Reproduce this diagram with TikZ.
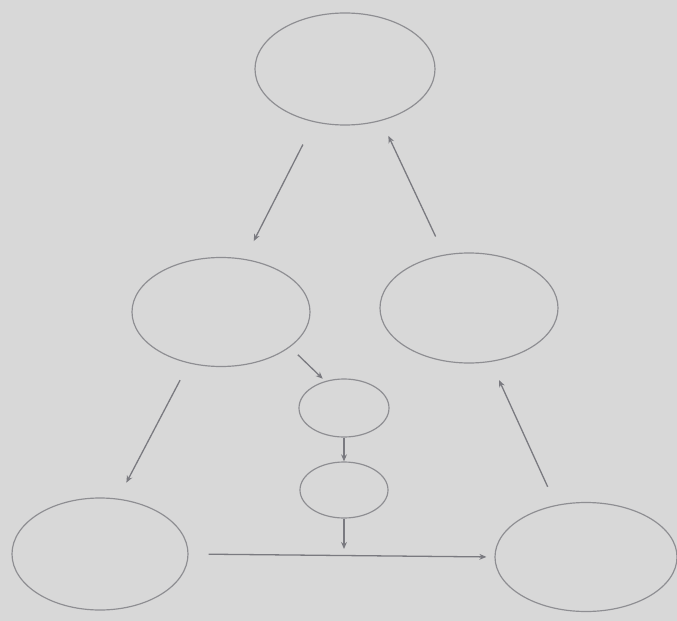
\documentclass[tikz,border=0pt]{standalone}
\usepackage{tikz}
\usetikzlibrary{shapes.geometric, arrows.meta}
\definecolor{paper}{RGB}{216,216,216}
\definecolor{pencil}{RGB}{142,142,146}
\definecolor{inkline}{RGB}{122,122,128}

\begin{document}
\begin{tikzpicture}[x=0.03cm, y=-0.03cm,
    bubble/.style={ellipse, draw=pencil, line width=1pt, inner sep=0pt},
    flow/.style={draw=inkline, line width=1.1pt, -{Stealth[length=6pt,width=5pt]}}]
    \useasboundingbox (0,0) rectangle (677,621);
    \fill[paper] (0,0) rectangle (677,621);

    \node[bubble, minimum width=5.4cm, minimum height=3.36cm] (top) at (345,69) {};
    \node[bubble, minimum width=5.34cm, minimum height=3.27cm] (midleft) at (221,312) {};
    \node[bubble, minimum width=5.34cm, minimum height=3.3cm] (midright) at (469,308) {};
    \node[bubble, minimum width=2.7cm, minimum height=1.74cm] (smallA) at (344,408) {};
    \node[bubble, minimum width=2.64cm, minimum height=1.68cm] (smallB) at (344,490) {};
    \node[bubble, minimum width=5.28cm, minimum height=3.36cm] (botleft) at (100,554) {};
    \node[bubble, minimum width=5.46cm, minimum height=3.27cm] (botright) at (586,557) {};
    \coordinate (join) at (smallB.south |- botleft.east);

    \draw[flow, shorten <=0.75cm, shorten >=0.6cm] (top.240) -- (midleft.66);
    \draw[flow, shorten <=0.6cm, shorten >=0.5cm] (midright.115) -- (top.305);
    \draw[flow, shorten <=0.33cm, shorten >=0.1cm] (midleft.333) -- (smallA.125);
    \draw[flow] (smallA.south) -- (smallB.north);
    \draw[flow, shorten >=0.15cm] (smallB.south) -- (join);
    \draw[flow, shorten <=0.6cm, shorten >=0.24cm] (botleft.east) -- (botright.west);
    \draw[flow, shorten <=0.57cm, shorten >=0.54cm] (midleft.238) -- (botleft.72);
    \draw[flow, shorten <=0.6cm, shorten >=0.6cm] (botright.120) -- (midright.292);
\end{tikzpicture}
\end{document}
